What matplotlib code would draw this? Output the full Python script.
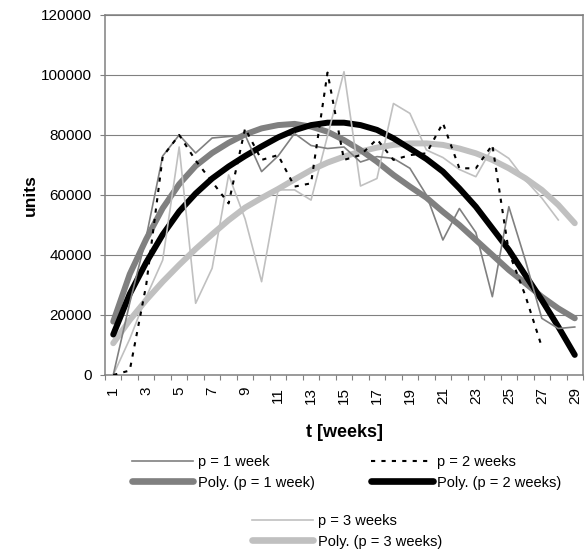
import numpy as np
import matplotlib
matplotlib.use('Agg')
import matplotlib.pyplot as plt
from matplotlib.lines import Line2D

plt.rcParams['font.family'] = ['Liberation Sans', 'DejaVu Sans']

# ─── Data ───────────────────────────────────────────────────────────────────
weeks = list(range(1, 30))

p1 = [0, 24000, 46000, 73000, 80000, 74000, 79000, 79500, 80000, 67800,
      73000, 80500, 76500, 75500, 76000, 71000, 72800, 72200, 68900, 60000,
      45000, 55500, 47500, 26100, 56100, 38300, 18900, 15500, 16000]
p2 = [0, 1500, 30000, 72800, 80000, 71500, 64400, 57200, 82200, 71700,
      73300, 62800, 63900, 100800, 71700, 73300, 78600, 71700, 73300, 73900,
      84000, 68900, 68900, 76700, 41000, 26500, 9400]
p3 = [0, 12000, 26000, 38300, 76000, 23900, 35600, 66700, 52000, 31100,
      61700, 61700, 58300, 79700, 101100, 63000, 65500, 90500, 87200, 75000,
      72500, 68500, 66100, 75800, 72200, 65000, 59000, 51700]

poly1 = [17800, 33600, 45300, 55600, 63600, 69700, 74000, 77400, 80200, 82200,
         83300, 83700, 82800, 81100, 78300, 75000, 71100, 66700, 62800, 59100,
         54400, 50000, 45000, 40000, 35000, 30600, 26100, 22200, 18900]
poly2 = [13500, 27000, 37500, 46800, 54500, 60500, 65500, 69500, 73000, 76200,
         79200, 81600, 83300, 84100, 84100, 83300, 81700, 78900, 75500, 72000,
         67800, 62200, 56100, 48900, 41700, 33300, 25000, 16100, 6700]
poly3 = [10600, 18300, 25000, 31100, 36700, 42000, 46900, 51600, 55800, 59000,
         62000, 65200, 68300, 70800, 72800, 74500, 75800, 76700, 77200, 77200,
         76700, 75500, 73900, 71700, 68900, 65600, 61700, 56700, 50600]

labels = ['p = 1 week', 'Poly. (p = 1 week)', 'p = 2 weeks', 'Poly. (p = 2 weeks)',
          'p = 3 weeks', 'Poly. (p = 3 weeks)']

DARK = '#808080'
LIGHT = '#c0c0c0'

fig = plt.figure(figsize=(5.88, 5.57), dpi=100)
ax = fig.add_axes([105 / 588, 1 - 375 / 557, 478 / 588, 360 / 557])

# thick trend lines underneath, thin data lines on top (as in Excel)
ax.plot(weeks, poly3, color=LIGHT, lw=4.3, solid_capstyle='round', zorder=3)
ax.plot(weeks, poly1, color=DARK, lw=4.3, solid_capstyle='round', zorder=3)
ax.plot(weeks, poly2, color='black', lw=4.3, solid_capstyle='round', zorder=4)
ax.plot(weeks[:len(p3)], p3, color=LIGHT, lw=1.2, zorder=5)
ax.plot(weeks[:len(p1)], p1, color=DARK, lw=1.2, zorder=5)
ax.plot(weeks[:len(p2)], p2, color='black', lw=1.5, dashes=(2, 3), zorder=6)

ax.set_xlim(0.5, 29.5)
ax.set_ylim(0, 120000)
ax.set_yticks(np.arange(0, 120001, 20000))
ax.set_yticklabels([str(v) for v in range(0, 120001, 20000)])
ax.set_xticks(range(1, 30, 2))
ax.set_xticklabels([str(w) for w in range(1, 30, 2)], rotation=90)
ax.set_xticks(np.arange(0.5, 30, 1), minor=True)
ax.tick_params(axis='x', which='major', length=0, pad=8.5, labelsize=11)
ax.tick_params(axis='x', which='minor', length=3.6, width=0.8, color=DARK)
ax.tick_params(axis='y', length=3.6, width=0.8, color=DARK, pad=6, labelsize=11)

ax.grid(True, axis='y', color=DARK, lw=0.8)
ax.set_axisbelow(True)
for s in ax.spines.values():
    s.set_color(DARK)
    s.set_linewidth(1.1)

ax.set_xlabel('t [weeks]', fontsize=13, fontweight='bold')
ax.xaxis.set_label_coords(0.5, -0.136)
ax.set_ylabel('units', fontsize=12.5, fontweight='bold')
ax.yaxis.set_label_coords(-0.14, 0.5)

# legend, laid out like the Excel one
h_p1 = Line2D([], [], color=DARK, lw=1.2)
h_f1 = Line2D([], [], color=DARK, lw=4.8, solid_capstyle='round')
h_p2 = Line2D([], [], color='black', lw=1.5, dashes=(2, 3))
h_f2 = Line2D([], [], color='black', lw=4.8, solid_capstyle='round')
h_p3 = Line2D([], [], color=LIGHT, lw=1.2)
h_f3 = Line2D([], [], color=LIGHT, lw=4.8, solid_capstyle='round')

leg_kw = dict(frameon=False, fontsize=10.5, handlelength=4.2, handletextpad=0.3,
              labelspacing=0.45, borderpad=0, borderaxespad=0, loc='upper left')
fig.legend([h_p1, h_f1, h_p2, h_f2], labels[:4], ncol=2, columnspacing=3.9,
           bbox_to_anchor=(132 / 588, 1 - 455 / 557), **leg_kw)
fig.legend([h_p3, h_f3], labels[4:],
           bbox_to_anchor=(252 / 588, 1 - 514 / 557), **leg_kw)

fig.savefig('out.png', dpi=100)
